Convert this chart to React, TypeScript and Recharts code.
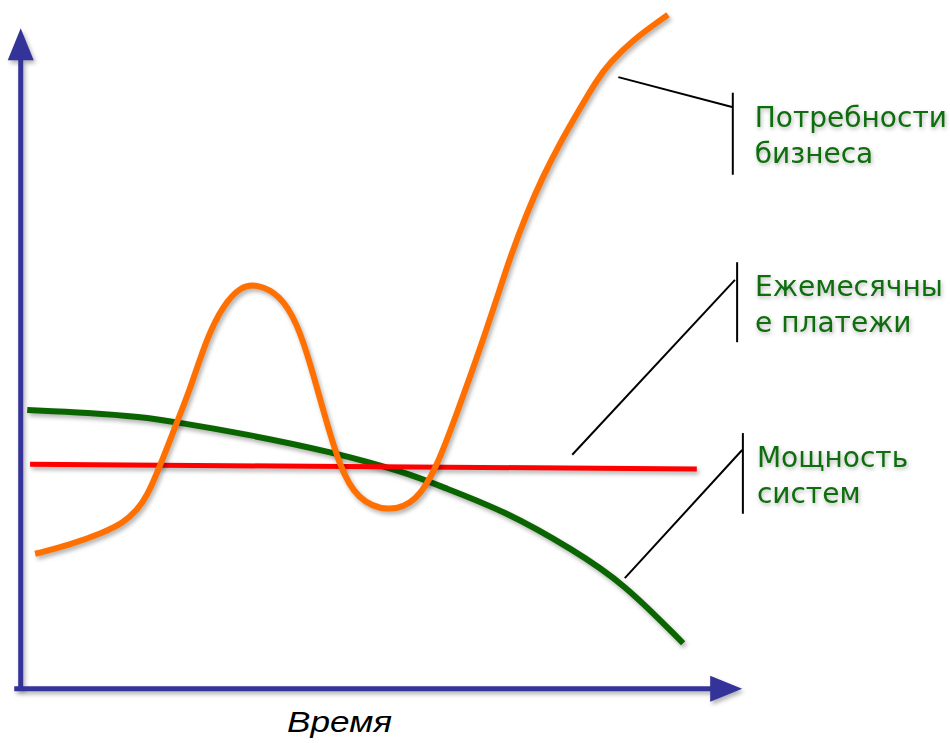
import { LineChart, Line, XAxis, YAxis, ReferenceLine } from 'recharts';

// time (0..100) and level (0..100)
const needsTime = [2.1, 6.9, 11.5, 14.3, 16.3, 17.6, 19.4, 21.9, 23.6, 26.0, 28.2, 30.6, 32.9, 36.1, 38.5, 40.3, 42.1, 44.4, 46.8, 51.1, 55.1, 57.9, 60.7, 63.5, 66.3, 68.1, 70.4, 72.6, 75.0, 77.4, 80.1, 81.9, 85.1, 90.0];
const needsValue = [19.8, 21.1, 22.9, 24.3, 26.3, 28.2, 32.6, 39.5, 44.0, 51.8, 56.4, 59.2, 59.6, 58.0, 53.8, 47.9, 41.0, 32.6, 27.8, 25.9, 27.4, 32.6, 40.6, 48.8, 57.7, 63.6, 70.1, 75.4, 80.4, 84.8, 89.7, 92.2, 95.6, 99.3];

const powerTime = [1.0, 9.7, 16.7, 21.8, 30.6, 43.5, 53.8, 58.3, 67.6, 76.8, 83.8, 92.1];
const powerValue = [41.0, 40.6, 40.0, 39.2, 37.6, 34.8, 31.7, 29.8, 26.0, 20.4, 15.5, 6.6];

const paymentTime = [1.4, 94.0];
const paymentValue = [33.0, 32.3];

const labels = [
  { name: 'needs', lines: ['Потребности', 'бизнеса'], dx: 22, bar: [99.0, 87.8, 75.7], from: [83.1, 90.1, 98.9, 85.7] },
  { name: 'payments', lines: ['Ежемесячны', 'е платежи'], dx: 18, bar: [99.6, 62.8, 51.0], from: [76.7, 34.4, 99.3, 60.2] },
  { name: 'power', lines: ['Мощность', 'систем'], dx: 14, bar: [100.4, 37.6, 25.7], from: [84.0, 16.2, 100.3, 35.1] },
];

const toRows = (ts: number[], vs: number[]) => ts.map((t, i) => ({ t, v: vs[i] }));

const AXIS = '#333399';
const shadow = 'drop-shadow(2px 3px 2px rgba(0,0,0,0.3))';

const Arrow = (props: any) => {
  const { x1, y1, x2, y2 } = props;
  const dx = x2 - x1;
  const dy = y2 - y1;
  const len = Math.sqrt(dx * dx + dy * dy) || 1;
  const ux = dx / len;
  const uy = dy / len;
  const bx = x2 - ux * 32;
  const by = y2 - uy * 32;
  const head = `${x2},${y2} ${bx - uy * 13},${by + ux * 13} ${bx + uy * 13},${by - ux * 13}`;
  return (
    <g style={{ filter: shadow }}>
      <line x1={x1} y1={y1} x2={bx + ux * 4} y2={by + uy * 4} stroke={AXIS} strokeWidth={5} />
      <polygon points={head} fill={AXIS} />
    </g>
  );
};

const barShape = (lines: string[], dx: number) => (props: any) => {
  const { x1, y1, x2, y2 } = props;
  const top = Math.min(y1, y2);
  return (
    <g>
      <line x1={x1} y1={y1} x2={x2} y2={y2} stroke="#000" strokeWidth={2} />
      {lines.map((s, i) => (
        <text
          key={s}
          x={x1 + dx}
          y={top + 34 + i * 36}
          fill="#0e6e0e"
          fontSize={28}
          fontFamily="DejaVu Sans, Verdana, sans-serif"
          style={{ filter: 'drop-shadow(1px 2px 2px rgba(0,0,0,0.3))' }}
        >
          {s}
        </text>
      ))}
    </g>
  );
};

export default function App() {
  return (
    <div className="chart" style={{ position: 'absolute', left: 0, top: 0, background: '#fff' }}>
      <style>{`.chart .recharts-line-curve { filter: ${shadow}; }`}</style>
      <LineChart width={950} height={743} margin={{ top: 10, right: 210, bottom: 0, left: 20 }}>
        <XAxis
          type="number"
          dataKey="t"
          domain={[0, 100]}
          allowDataOverflow
          axisLine={false}
          tickLine={false}
          tick={false}
          height={55}
          label={(p: any) => {
            const vb = p.viewBox;
            return (
              <text
                x={vb.x + 267}
                y={vb.y + 44}
                fontSize={30}
                fontStyle="italic"
                fontFamily="Liberation Sans, Arial, sans-serif"
                fill="#000"
                textLength={105}
                lengthAdjust="spacingAndGlyphs"
              >
                Время
              </text>
            );
          }}
        />
        <YAxis type="number" dataKey="v" domain={[0, 100]} allowDataOverflow hide />

        <ReferenceLine segment={[{ x: 0.1, y: -0.2 }, { x: 0.1, y: 97.3 }]} ifOverflow="visible" shape={Arrow} />
        <ReferenceLine segment={[{ x: -0.8, y: -0.1 }, { x: 100.3, y: -0.1 }]} ifOverflow="visible" shape={Arrow} />

        {labels.map((l) => (
          <ReferenceLine
            key={l.name + '-ptr'}
            segment={[{ x: l.from[0], y: l.from[1] }, { x: l.from[2], y: l.from[3] }]}
            ifOverflow="visible"
            stroke="#000"
            strokeWidth={2}
          />
        ))}
        {labels.map((l) => (
          <ReferenceLine
            key={l.name + '-bar'}
            segment={[{ x: l.bar[0], y: l.bar[1] }, { x: l.bar[0], y: l.bar[2] }]}
            ifOverflow="visible"
            shape={barShape(l.lines, l.dx)}
          />
        ))}

        <Line
          data={toRows(powerTime, powerValue)}
          dataKey="v"
          type="basis"
          stroke="#0a6400"
          strokeWidth={6}
          dot={false}
          isAnimationActive={false}
        />
        <Line
          data={toRows(paymentTime, paymentValue)}
          dataKey="v"
          type="linear"
          stroke="#ff0000"
          strokeWidth={5}
          dot={false}
          isAnimationActive={false}
        />
        <Line
          data={toRows(needsTime, needsValue)}
          dataKey="v"
          type="basis"
          stroke="#ff7000"
          strokeWidth={6}
          dot={false}
          isAnimationActive={false}
        />
      </LineChart>
    </div>
  );
}
